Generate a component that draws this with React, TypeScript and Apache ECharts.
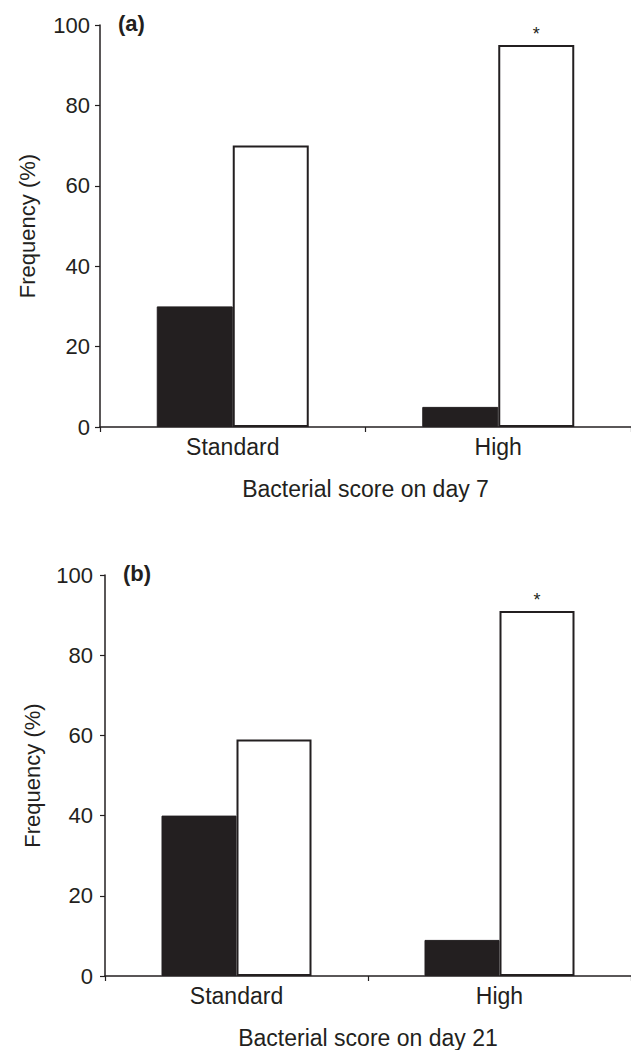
import React, { useEffect, useRef } from "react";
import * as echarts from "echarts";

const categories = ["Standard", "High"];
const day7Black = [30, 5];
const day7White = [70, 95];
const day21Black = [40, 9];
const day21White = [59, 91];
const starred = [false, true];
const yTicks = { min: 0, max: 100, interval: 20 };

const FONT = "'Liberation Sans', Arial, Helvetica, sans-serif";
const INK = "#231f20";

export default function App() {
  const ref = useRef<HTMLDivElement>(null);
  useEffect(() => {
    if (!ref.current) return;
    const chart = echarts.init(ref.current, undefined, { renderer: "svg" });

    const grids = [
      { left: 100, right: 0, top: 25, height: 402 },
      { left: 105, right: 0, top: 575, height: 403 },
    ];
    const names = ["Bacterial score on day 7", "Bacterial score on day 21"];
    const labels = ["(a)", "(b)"];
    const labelLefts = [118, 123];

    const xAxes = grids.map((_, i) => ({
      type: "category",
      gridIndex: i,
      data: categories,
      name: names[i],
      nameLocation: "middle",
      nameGap: 50,
      nameTextStyle: { fontFamily: FONT, fontSize: 23, color: INK },
      axisLine: { lineStyle: { color: INK, width: 1.5 } },
      axisTick: { show: true, length: 5, lineStyle: { color: INK, width: 1.2 } },
      axisLabel: { fontFamily: FONT, fontSize: 23, color: INK, margin: 8 },
    }));
    const yAxes = grids.map((_, i) => ({
      type: "value",
      gridIndex: i,
      min: yTicks.min,
      max: yTicks.max,
      interval: yTicks.interval,
      name: "Frequency (%)",
      nameLocation: "middle",
      nameGap: 62,
      nameTextStyle: { fontFamily: FONT, fontSize: 22, color: INK },
      splitLine: { show: false },
      axisLine: { show: true, lineStyle: { color: INK, width: 1.5 } },
      axisTick: { show: true, length: 5, lineStyle: { color: INK, width: 1.2 } },
      axisLabel: { fontFamily: FONT, fontSize: 22, color: INK, margin: i === 0 ? 10 : 12 },
    }));

    const mkWhite = (vals: number[]) =>
      vals.map((v, j) => ({
        value: v,
        label: {
          show: starred[j],
          position: "top",
          distance: 2,
          formatter: "*",
          fontFamily: FONT,
          fontSize: 18,
          color: INK,
        },
      }));

    const series: any[] = [];
    [
      [day7Black, day7White],
      [day21Black, day21White],
    ].forEach(([b, w], i) => {
      series.push({
        type: "bar",
        xAxisIndex: i,
        yAxisIndex: i,
        data: b,
        barWidth: i === 0 ? 76 : 75,
        barGap: "0%",
        itemStyle: { color: INK, borderColor: INK, borderWidth: 1 },
      });
      series.push({
        type: "bar",
        xAxisIndex: i,
        yAxisIndex: i,
        data: mkWhite(w),
        barWidth: i === 0 ? 76 : 75,
        barGap: "0%",
        itemStyle: { color: "#ffffff", borderColor: INK, borderWidth: 2 },
      });
    });

    chart.setOption({
      animation: false,
      backgroundColor: "#ffffff",
      title: labels.map((t, i) => ({
        text: t,
        left: labelLefts[i],
        top: i === 0 ? 12 : 562,
        padding: 0,
        textStyle: { fontFamily: FONT, fontSize: 22, fontWeight: "bold", color: INK },
      })),
      grid: grids,
      xAxis: xAxes,
      yAxis: yAxes,
      series,
    });
    return () => chart.dispose();
  }, []);
  return (
    <div
      ref={ref}
      style={{ position: "absolute", left: 0, top: 0, width: 631, height: 1050 }}
    />
  );
}
